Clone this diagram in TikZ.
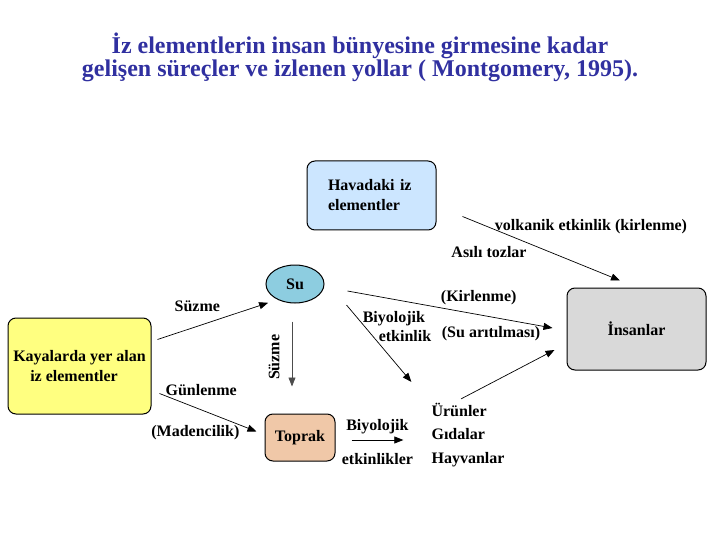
\documentclass[tikz,border=0pt]{standalone}
\usepackage{fontspec}
\setmainfont{Liberation Serif}
\usetikzlibrary{arrows.meta,positioning,shapes.geometric}
\definecolor{titleblue}{HTML}{3030A0}
\definecolor{airblue}{HTML}{CCE6FF}
\definecolor{waterblue}{HTML}{8DCDE0}
\definecolor{rockyellow}{HTML}{FFFF80}
\definecolor{soilpeach}{HTML}{F0C8A8}
\definecolor{humangray}{HTML}{D9D9D9}
\begin{document}
\begin{tikzpicture}[x=1pt,y=-1pt,>={Triangle[length=9pt,width=7pt]},
 lbl/.style={font=\bfseries\fontsize{16}{19}\selectfont,inner sep=1pt},
 box/.style={draw,line width=1pt,rounded corners=8pt,font=\bfseries\fontsize{16}{20}\selectfont},
 flow/.style={->,line width=0.7pt}]
\useasboundingbox (0,0) rectangle (720,540);
% title
\node[text=titleblue,font=\bfseries\fontsize{24}{20.5}\selectfont,align=center] (title) at (360,57.5)
 {İz elementlerin insan bünyesine girmesine kadar\\gelişen süreçler ve izlenen yollar ( Montgomery, 1995).};
% boxes
\node[box,fill=airblue,minimum height=69pt,inner xsep=21pt,text width=87pt,align=left] (hava) at (371.5,195.5)
 {Havadaki iz\\elementler};
\node[box,ellipse,fill=waterblue,minimum width=58pt,minimum height=38pt,inner sep=0pt] (su) at (295,284) {Su};
\node[box,fill=rockyellow,minimum width=143pt,minimum height=96pt,align=left] (kaya) at (79.5,366)
 {Kayalarda yer alan\\\hspace*{17pt}iz elementler};
\node[box,fill=soilpeach,minimum width=70pt,minimum height=47pt,inner sep=0pt] (toprak) at (300,437.5) {Toprak};
\node[box,fill=humangray,minimum width=139pt,minimum height=82pt] (insan) at (636.5,329) {İnsanlar};
\node[lbl,align=left,font=\bfseries\fontsize{16}{23.5}\selectfont] (urun) at (468,435) {Ürünler\\Gıdalar\\Hayvanlar};
% connectors
\draw[flow] ([shift={(6,22)}]kaya.north east) -- node[lbl,above,pos=0.36,yshift=13pt] {Süzme} ([shift={(-6,5)}]su.south west);
\draw[flow,gray!60!black] ([shift={(-3,18)}]su.south) -- node[lbl,black,rotate=90,anchor=south,pos=0.55,yshift=11pt] {Süzme} ([shift={(-3,83)}]su.south);
\draw[flow] ([shift={(8,-21)}]kaya.south east) -- node[lbl,above,pos=0.43,yshift=13pt] {Günlenme}
 node[lbl,below,pos=0.37,yshift=-16pt] {(Madencilik)} ([shift={(-8,18)}]toprak.north west);
\draw[flow] ([shift={(26,-14)}]hava.south east) -- ([shift={(-16.5,-7)}]insan.north);
\node[lbl] (volkan) at (591,227) {volkanik etkinlik (kirlenme)};
\node[lbl] (toz) at (489,252) {Asılı tozlar};
\draw[flow] ([shift={(23,7)}]su.east) -- node[lbl,above,pos=0.64,yshift=8pt] {(Kirlenme)} ([shift={(-14,-1)}]insan.west);
\draw[flow] ([shift={(22,21)}]su.east) -- ([shift={(-19,-20)}]urun.north west);
\node[lbl,align=left] (biyo) at (397,327) {Biyolojik\\\hspace*{16pt}etkinlik};
\node[lbl] (aritma) at (491,334) {(Su arıtılması)};
\draw[flow] ([shift={(-7,-3)}]urun.north) -- ([shift={(-12,21)}]insan.west);
\draw[flow] ([shift={(16,2.5)}]toprak.east) -- node[lbl,above,yshift=5pt] {Biyolojik}
 node[lbl,below,yshift=-12pt] {etkinlikler} ([shift={(-27,5)}]urun.west);
\end{tikzpicture}
\end{document}
